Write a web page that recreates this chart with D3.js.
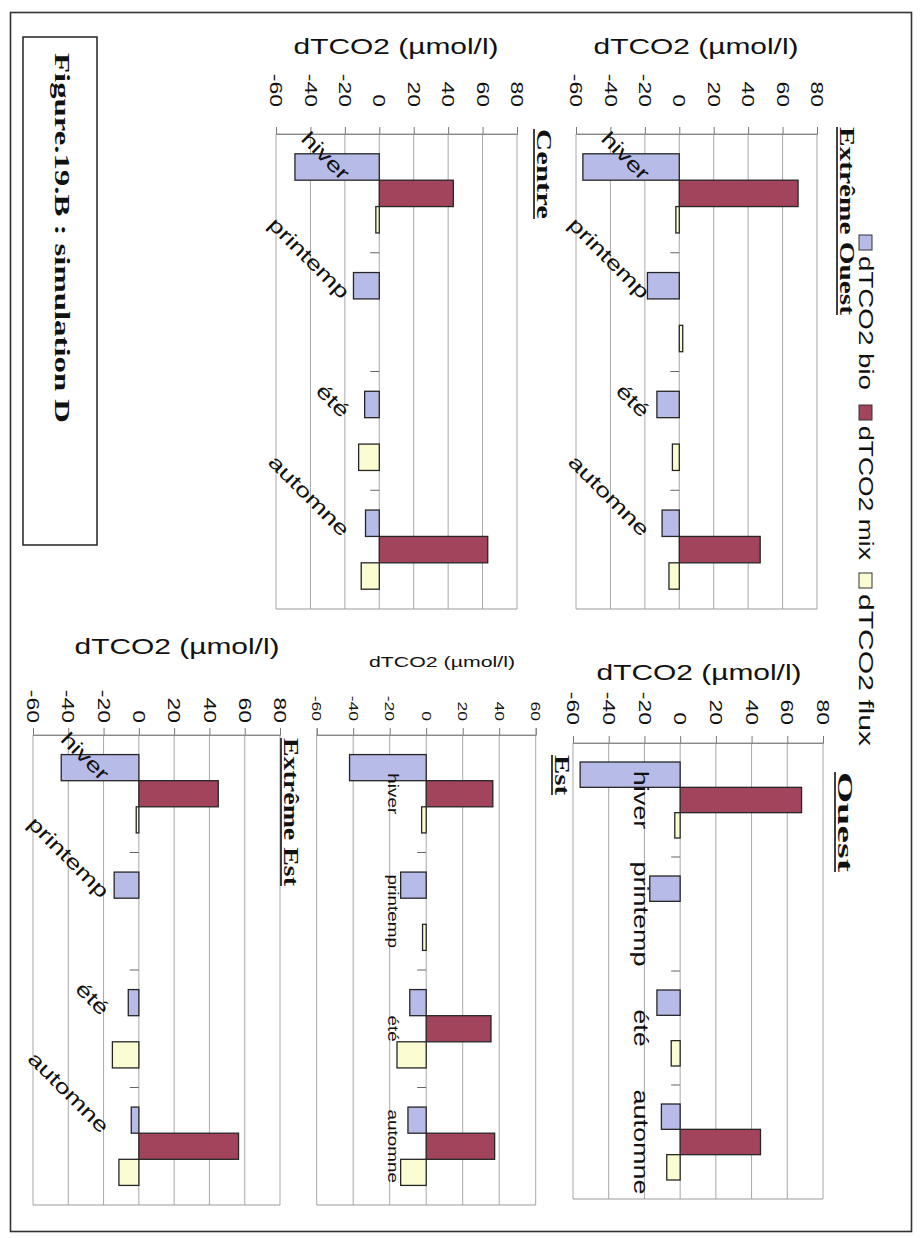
<!DOCTYPE html>
<html>
<head>
<meta charset="utf-8">
<script src="https://cdn.jsdelivr.net/npm/d3@7"></script>
<style>
  body { margin: 0; background: #fff; }
  svg { display: block; }
  text { font-family: Arial, "Liberation Sans", sans-serif; fill: #111; }
  .serif { font-family: "Times New Roman", "Liberation Serif", serif; font-weight: bold; }
</style>
</head>
<body>
<svg id="chart" width="923" height="1238"></svg>
<script>
// Seasons, series and axis ticks
const seasons = ["hiver", "printemp", "été", "automne"];
const seriesNames = ["dTCO2 bio", "dTCO2 mix", "dTCO2 flux"];
const ticksFull = [-60, -40, -20, 0, 20, 40, 60, 80];
const ticksEst = [-60, -40, -20, 0, 20, 40, 60];
const axisTitle = "dTCO2 (µmol/l)";
const caption = "Figure.19.B : simulation D";

// dTCO2 (µmol/l) per season, one array per region and component
const extOuestBio  = [-56, -18.5, -13, -10];
const extOuestMix  = [69, 0, 0, 47];
const extOuestFlux = [-2, 2, -4, -6];

const centreBio  = [-49, -15, -8.5, -8];
const centreMix  = [43, 0, 0, 63];
const centreFlux = [-2, 0, -12, -10.5];

const ouestBio  = [-56, -17, -13, -10.5];
const ouestMix  = [68, 0, 0, 45];
const ouestFlux = [-3, 0, -5, -7.5];

const estBio  = [-42, -14, -9, -10];
const estMix  = [36.5, 0, 35.5, 37.5];
const estFlux = [-2.5, -2, -16, -14];

const extEstBio  = [-44, -14, -6, -4.3];
const extEstMix  = [45, 0, 0, 56.5];
const extEstFlux = [-1.5, 0, -15, -11.3];

const colors = ["#b6bbe8", "#a3445d", "#fcfcd2"];

// The page is laid out sideways: the value axis runs across the page,
// the seasons run down it, and the lettering is turned a quarter turn.
const STRETCH = 1.35;

const panels = [
  { title: "Extrême Ouest", values: [extOuestBio, extOuestMix, extOuestFlux], ticks: ticksFull,
    x0: 576, x1: 817, top: 134, bottom: 609, labels: "diag", titleX: 696, titleY: 46,
    head: { x: 840, y: 127, len: 188 }, tickFont: 17, tickGap: 27 },
  { title: "Centre", values: [centreBio, centreMix, centreFlux], ticks: ticksFull,
    x0: 276, x1: 517, top: 134, bottom: 609, labels: "diag", titleX: 396, titleY: 46,
    head: { x: 537, y: 129, len: 90 }, tickFont: 17, tickGap: 27 },
  { title: "Ouest", values: [ouestBio, ouestMix, ouestFlux], ticks: ticksFull,
    x0: 573, x1: 823, top: 743, bottom: 1199, labels: "flat", labelFont: 20, labelOff: 46,
    titleX: 699, titleY: 672, head: { x: 838, y: 772, len: 100 }, tickFont: 17, tickGap: 18 },
  { title: "Est", values: [estBio, estMix, estFlux], ticks: ticksEst,
    x0: 316.7, x1: 535.7, top: 735, bottom: 1205, labels: "flat", labelFont: 14, labelOff: 38,
    titleX: 442, titleY: 661, titleSize: 15, titleLen: 146, head: { x: 555, y: 755, len: 40 },
    tickFont: 13, tickGap: 14 },
  { title: "Extrême Est", values: [extEstBio, extEstMix, extEstFlux], ticks: ticksFull,
    x0: 33, x1: 280, top: 735, bottom: 1205, labels: "diag", titleX: 177, titleY: 646,
    head: { x: 284, y: 738, len: 148 }, tickFont: 17, tickGap: 12 }
];

const svg = d3.select("#chart");

// page frame
svg.append("rect").attr("x", 10.5).attr("y", 12.5).attr("width", 901).attr("height", 1219)
  .attr("fill", "none").attr("stroke", "#333").attr("stroke-width", 1.6);

// turned text helper: anchor point, angle, stretch along the reading direction
function turned(g, x, y, str, angle, size, anchor, extra) {
  const t = g.append("text")
    .attr("transform", `translate(${x},${y}) rotate(${angle}) scale(${STRETCH},1)`)
    .attr("font-size", size)
    .attr("text-anchor", anchor)
    .text(str);
  if (extra) extra(t);
  return t;
}

panels.forEach(p => {
  const g = svg.append("g");
  const x = d3.scaleLinear().domain([p.ticks[0], p.ticks[p.ticks.length - 1]]).range([p.x0, p.x1]);
  const y = d3.scaleBand().domain(seasons).range([p.top, p.bottom]);
  const ys = d3.scaleBand().domain(seriesNames).range([0, y.bandwidth()]).paddingInner(0).paddingOuter(0.75);

  // gridlines
  g.selectAll(".grid").data(p.ticks).join("line")
    .attr("x1", d => x(d)).attr("x2", d => x(d))
    .attr("y1", p.top).attr("y2", p.bottom)
    .attr("stroke", "#a8a8a8").attr("stroke-width", 1);
  // plot frame ends
  [p.top, p.bottom].forEach(yy => g.append("line")
    .attr("x1", p.x0).attr("x2", p.x1).attr("y1", yy).attr("y2", yy)
    .attr("stroke", "#9a9a9a").attr("stroke-width", 1));

  // value axis along the top edge, with outside ticks
  const ax = g.append("g").attr("transform", `translate(0,${p.top})`)
    .call(d3.axisTop(x).tickValues(p.ticks).tickSize(7).tickFormat(""));
  ax.select(".domain").attr("stroke", "#888");
  ax.selectAll(".tick line").attr("stroke", "#777");
  p.ticks.forEach(t => {
    turned(g, x(t), p.top - p.tickGap, String(t), 90, p.tickFont, "end",
      s => s.attr("dominant-baseline", "central"));
  });

  // category axis at zero with ticks between seasons
  const cat = g.append("g").attr("transform", `translate(${x(0)},0)`);
  cat.selectAll("line").data(seasons.slice(1)).join("line")
    .attr("x1", -9).attr("x2", 0)
    .attr("y1", d => y(d)).attr("y2", d => y(d))
    .attr("stroke", "#666").attr("stroke-width", 1);

  // bars
  seriesNames.forEach((s, si) => {
    g.selectAll(".bar" + si).data(seasons.map((season, i) => ({ season, v: p.values[si][i] })).filter(d => d.v !== 0))
      .join("rect")
      .attr("x", d => Math.min(x(0), x(d.v)))
      .attr("width", d => Math.abs(x(d.v) - x(0)))
      .attr("y", d => y(d.season) + ys(s))
      .attr("height", ys.bandwidth())
      .attr("fill", colors[si])
      .attr("stroke", "#262626").attr("stroke-width", 1.3);
  });

  // season labels
  seasons.forEach(season => {
    const cy = y(season) + y.bandwidth() / 2;
    if (p.labels === "diag") {
      turned(g, x(0) - 38, cy - 12, season, 45, 20, "end");
    } else {
      turned(g, x(0) - p.labelOff, cy, season, 90, p.labelFont, "middle");
    }
  });

  // axis title
  g.append("text")
    .attr("x", p.titleX).attr("y", p.titleY)
    .attr("text-anchor", "middle").attr("dominant-baseline", "central")
    .attr("font-size", p.titleSize || 22)
    .attr("textLength", p.titleLen || 205).attr("lengthAdjust", "spacingAndGlyphs")
    .text(axisTitle);

  // region heading, underlined
  g.append("text").attr("class", "serif")
    .attr("transform", `translate(${p.head.x},${p.head.y}) rotate(90)`)
    .attr("font-size", 20)
    .attr("textLength", p.head.len).attr("lengthAdjust", "spacingAndGlyphs")
    .text(p.title);
  g.append("line")
    .attr("x1", p.head.x - 3).attr("x2", p.head.x - 3)
    .attr("y1", p.head.y).attr("y2", p.head.y + p.head.len)
    .attr("stroke", "#111").attr("stroke-width", 1.6);
});

// legend
const legend = svg.append("g");
const legendPos = [235, 405, 573];
seriesNames.forEach((s, i) => {
  legend.append("rect").attr("x", 859).attr("y", legendPos[i]).attr("width", 13).attr("height", 15)
    .attr("fill", colors[i]).attr("stroke", "#333").attr("stroke-width", 1);
  legend.append("text")
    .attr("transform", `translate(866,${legendPos[i] + 21}) rotate(90)`)
    .attr("font-size", 21).attr("dominant-baseline", "central")
    .attr("textLength", i === 2 ? 152 : 134).attr("lengthAdjust", "spacingAndGlyphs")
    .text(s);
});

// caption box
svg.append("rect").attr("x", 23).attr("y", 37).attr("width", 74).attr("height", 508)
  .attr("fill", "none").attr("stroke", "#222").attr("stroke-width", 1.5);
svg.append("text").attr("class", "serif")
  .attr("transform", "translate(55,53) rotate(90)")
  .attr("font-size", 22)
  .attr("textLength", 370).attr("lengthAdjust", "spacingAndGlyphs")
  .text(caption);
</script>
</body>
</html>
